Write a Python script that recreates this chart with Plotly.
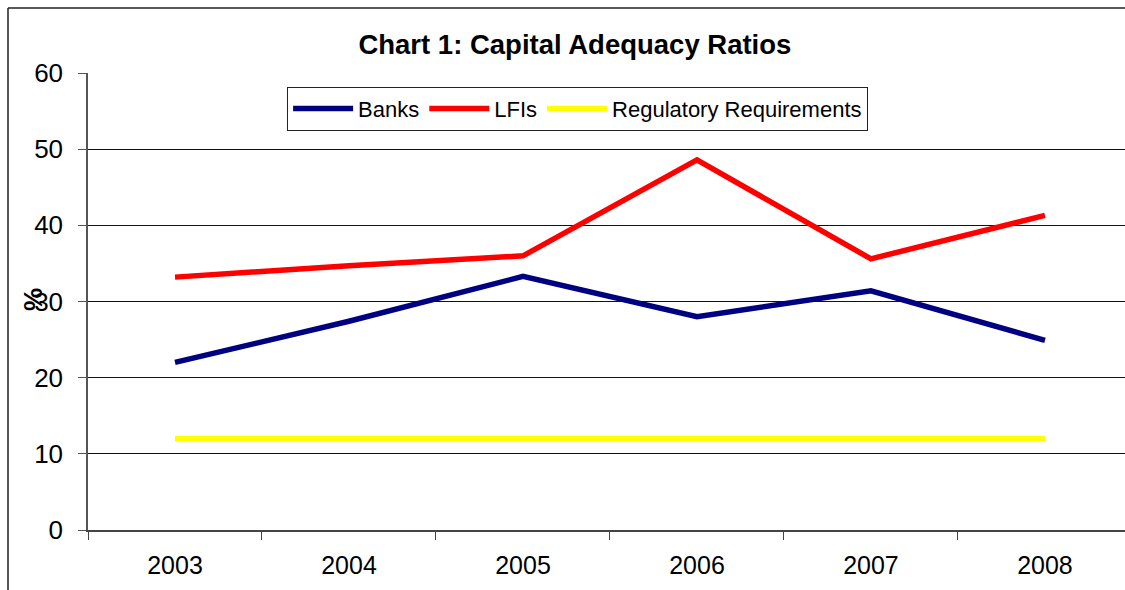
import plotly.graph_objects as go

years = ["2003", "2004", "2005", "2006", "2007", "2008"]
banks = [22.0, 27.4, 33.3, 28.0, 31.4, 24.9]
lfis = [33.2, 34.7, 36.0, 48.6, 35.6, 41.3]
regulatory = [12, 12, 12, 12, 12, 12]
y_ticks = [0, 10, 20, 30, 40, 50, 60]

FONT = "Liberation Sans, Arial, sans-serif"

fig = go.Figure()
fig.add_trace(go.Scatter(x=years, y=banks, name="Banks", mode="lines",
                         line=dict(color="#000080", width=5.5)))
fig.add_trace(go.Scatter(x=years, y=lfis, name="LFIs", mode="lines",
                         line=dict(color="#FF0000", width=5.5)))
fig.add_trace(go.Scatter(x=years, y=regulatory, name="Regulatory Requirements", mode="lines",
                         line=dict(color="#FFFF00", width=5.5)))

bx0 = (8 - 88) / 1037
by1 = 1 + (73 - 8) / 457

fig.update_layout(
    width=1125, height=590,
    margin=dict(l=88, r=0, t=73, b=60),
    paper_bgcolor="white", plot_bgcolor="white",
    font=dict(family=FONT, color="black"),
    title=dict(text="<b>Chart 1: Capital Adequacy Ratios</b>", x=0.511, xref="container",
               y=1 - 44 / 590, yref="container", xanchor="center", yanchor="middle",
               font=dict(size=27.5, family=FONT, color="black")),
    showlegend=True,
    legend=dict(orientation="h", x=0.192, y=0.97, xanchor="left", yanchor="top",
                bordercolor="#222", borderwidth=1, bgcolor="white",
                font=dict(size=22, family=FONT, color="black"),
                itemwidth=60, tracegroupgap=0),
    xaxis=dict(type="category", range=[-0.5, 5.46], showgrid=False, zeroline=False,
               showline=True, linecolor="#444", linewidth=2,
               ticks="outside", tickson="boundaries", ticklen=8, tickcolor="#444",
               tickfont=dict(size=25, family=FONT, color="black"),
               ticklabelstandoff=12),
    yaxis=dict(range=[0, 60], tickvals=y_ticks, showgrid=True, gridcolor="#111", gridwidth=1,
               zeroline=False, showline=True, linecolor="#555", linewidth=1.5,
               ticks="outside", ticklen=8, tickcolor="#555",
               tickfont=dict(size=26, family=FONT, color="black"),
               ticklabelstandoff=10),
    annotations=[dict(text="<b>%</b>", x=(33 - 88) / 1037, y=(530 - 300) / 457,
                      xref="paper", yref="paper", showarrow=False, textangle=-90,
                      font=dict(size=26, family=FONT, color="black"),
                      xanchor="center", yanchor="middle")],
    shapes=[
        dict(type="line", xref="paper", yref="paper", x0=bx0, x1=bx0, y0=-0.3, y1=by1,
             line=dict(color="#222", width=1.5), layer="below"),
        dict(type="line", xref="paper", yref="paper", x0=bx0, x1=1.0, y0=by1, y1=by1,
             line=dict(color="#222", width=1.5), layer="below"),
    ],
)

fig.write_html(
    "out.html",
    config={"displayModeBar": False, "responsive": False},
    post_script="document.documentElement.style.overflow='hidden';"
                "document.body.style.overflow='hidden';document.body.style.margin='0';",
)
